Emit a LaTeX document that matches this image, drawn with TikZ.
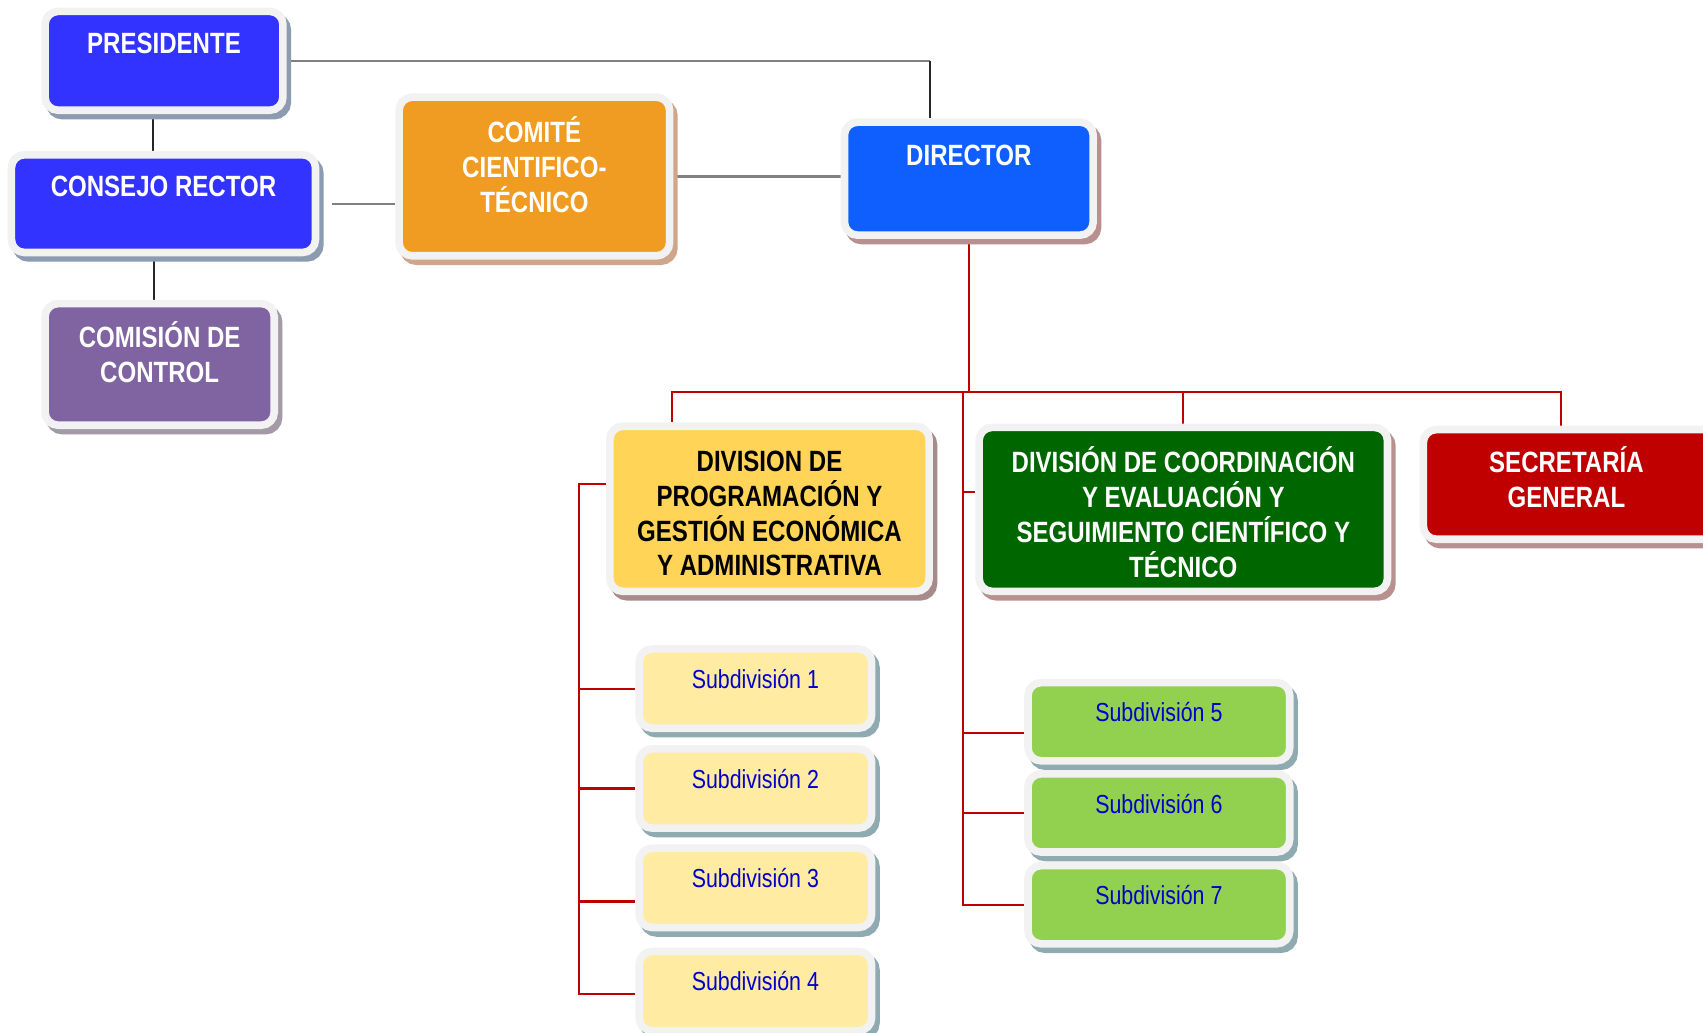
\documentclass[tikz,border=0pt]{standalone}
\usepackage{fontspec}
\newfontfamily\narrowsf[FakeStretch=0.82]{Liberation Sans}
\usetikzlibrary{shadows,backgrounds}
\definecolor{rim}{HTML}{F2F2F2}
\definecolor{presblue}{HTML}{3333FF}
\definecolor{dirblue}{HTML}{0F5EFF}
\definecolor{ctrlpurple}{HTML}{8064A2}
\definecolor{cteorange}{HTML}{F09C22}
\definecolor{progyellow}{HTML}{FFD457}
\definecolor{coordgreen}{HTML}{006600}
\definecolor{secred}{HTML}{C00000}
\definecolor{subyellow}{HTML}{FFEBA1}
\definecolor{subgreen}{HTML}{92D050}
\definecolor{shblue}{HTML}{8C9BB0}
\definecolor{shpurple}{HTML}{A39AA8}
\definecolor{shtan}{HTML}{CFA689}
\definecolor{shrose}{HTML}{B89090}
\definecolor{shteal}{HTML}{8FAAB0}
\definecolor{linegray}{HTML}{808080}

\begin{document}
\begin{tikzpicture}[
		x=0.5pt, y=-0.5pt,
		box/.style={draw=rim, line width=3.5pt, rounded corners=6pt, fill=#1, inner sep=0pt},
		shade/.style={general shadow={draw=#1, fill=#1, line width=3.5pt, shadow xshift=2pt, shadow yshift=-2.5pt}},
		title/.style={text=#1, align=center, inner sep=0pt, font=\narrowsf\bfseries\fontsize{13.5}{16}\selectfont},
		subtitle/.style={text=blue!80!black, inner sep=0pt, font=\narrowsf\fontsize{12}{14}\selectfont},
		gline/.style={draw=linegray, line width=1pt},
		kline/.style={draw=black!85, line width=1pt},
		rline/.style={draw=secred, line width=1pt},
	]
		\useasboundingbox (0,0) rectangle (1568,951);

		% left column
		\node (pres) [box=presblue, shade=shblue, minimum width=109.5pt, minimum height=45.5pt] at (151,56) {};
		\node (cons) [box=presblue, shade=shblue, minimum width=140pt, minimum height=45pt] at (150.5,187.5) {};
		\node (ctrl) [box=ctrlpurple, shade=shpurple, minimum width=105.5pt, minimum height=56pt] at (147,335.5) {};
		\node (cte) [box=cteorange, shade=shtan, minimum width=124.5pt, minimum height=73pt] at (492,162.5) {};
		\node (dir) [box=dirblue, shade=shrose, minimum width=114.5pt, minimum height=52pt] at (892,164.5) {};

		\node (pres-t) [title=white] at ([yshift=8pt]pres.center) {PRESIDENTE};
		\node (cons-t) [title=white] at ([yshift=7.75pt]cons.center) {CONSEJO RECTOR};
		\node (ctrl-t) [title=white] at ([yshift=5.5pt]ctrl.center) {COMISIÓN DE\\CONTROL};
		\node (cte-t) [title=white] at ([yshift=5.5pt]cte.center) {COMITÉ\\CIENTIFICO-\\TÉCNICO};
		\node (dir-t) [title=white] at ([yshift=10.75pt]dir.center) {DIRECTOR};

		% divisions
		\node (prog) [box=progyellow, shade=shrose!70!gray, minimum width=147pt, minimum height=76pt] at (708.5,468.5) {};
		\node (coord) [box=coordgreen, shade=shrose, minimum width=188pt, minimum height=75.5pt] at (1089.5,469) {};
		\node (sec) [box=secred, shade=shrose, minimum width=139.75pt, minimum height=50.5pt] at (1450.25,446) {};

		\node (prog-t) [title=black] at ([yshift=-2.25pt]prog.center) {DIVISION DE\\PROGRAMACIÓN Y\\GESTIÓN ECONÓMICA\\Y ADMINISTRATIVA};
		\node (coord-t) [title=white] at ([yshift=-1.25pt]coord.center) {DIVISIÓN DE COORDINACIÓN\\Y EVALUACIÓN Y\\SEGUIMIENTO CIENTÍFICO Y\\TÉCNICO};
		\node (sec-t) [title=white] at ([xshift=-4pt,yshift=3.25pt]sec.center) {SECRETARÍA\\GENERAL};

		% subdivisions
		\foreach \i/\y in {1/634,2/726,3/817.5,4/912.5} {
			\node (sub\i) [box=subyellow, shade=shteal, minimum width=107pt, minimum height=36.5pt] at (695.5,\y) {};
			\node (sub\i-t) [subtitle] at ([yshift=4.5pt]sub\i.center) {Subdivisión \i};
		}
		\foreach \i/\y in {5/664.5,6/748.5,7/833} {
			\node (sub\i) [box=subgreen, shade=shteal, minimum width=120.5pt, minimum height=36pt] at (1067,\y) {};
			\node (sub\i-t) [subtitle] at ([yshift=4.25pt]sub\i.center) {Subdivisión \i};
		}

		\begin{scope}[on background layer]
			\fill[white] (0,0) rectangle (1568,951);
			\coordinate (pd) at (856,56);
			\draw[gline] (pres.east) -- (pd);
			\draw[kline] (pd) -- (pd |- dir.north);
			\draw[kline] ([xshift=-5pt]pres.south) -- ([xshift=-5pt]pres.south |- cons.north);
			\draw[kline] ([xshift=-4.25pt]cons.south) -- ([xshift=-4.25pt]cons.south |- ctrl.north);
			\draw[gline] ([xshift=6pt]cons.east) -- (cons.east -| cte.west);
			\draw[gline] (cte.east) -- (cte.east -| dir.west);

			% red tree
			\coordinate (hub) at (892,361);
			\coordinate (busl) at (619,361);
			\coordinate (busr) at (1437,361);
			\coordinate (rbus) at (887,361);
			\coordinate (lbus) at (533,446);
			\draw[rline] (dir.south) -- (hub);
			\draw[rline] (busl |- prog.north) -- (busl) -- (busr) -- (busr |- sec.north);
			\draw[rline] (coord.north |- hub) -- (coord.north);
			\draw[rline] (rbus) -- (rbus |- sub7.west) -- (sub7.west);
			\draw[rline] ([yshift=8pt]coord.west -| rbus) -- ([yshift=8pt]coord.west);
			\draw[rline] ([yshift=-5.25pt]sub5.west -| rbus) -- ([yshift=-5.25pt]sub5.west);
			\draw[rline] (sub6.west -| rbus) -- (sub6.west);
			\draw[rline] ([yshift=11.25pt]prog.west) -| ([yshift=-1.25pt]sub4.west -| lbus) -- ([yshift=-1.25pt]sub4.west);
			\foreach \i/\d in {1/0,2/0,3/-6.25} {
				\draw[rline] ([yshift=\d pt]sub\i.west -| lbus) -- ([yshift=\d pt]sub\i.west);
			}
		\end{scope}
	\end{tikzpicture}
\end{document}
